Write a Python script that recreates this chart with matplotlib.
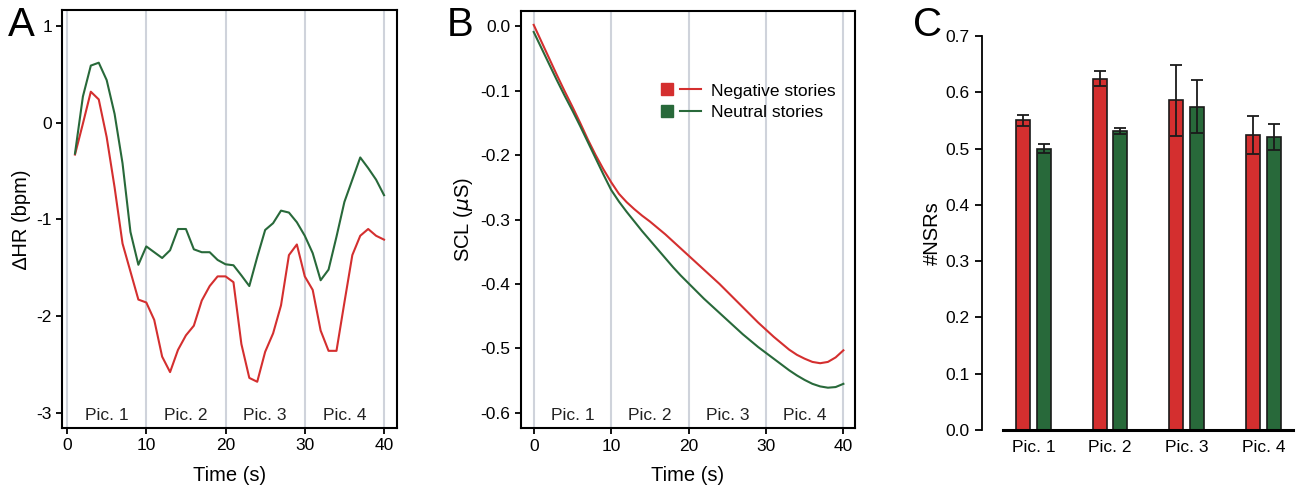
import matplotlib
matplotlib.use("Agg")
import matplotlib.pyplot as plt
from matplotlib.lines import Line2D
from matplotlib.legend_handler import HandlerTuple
import numpy as np

plt.rcParams["font.family"] = ["Liberation Sans", "DejaVu Sans"]
plt.rcParams["font.size"] = 12

RED = "#d42f2f"
GREEN = "#28693a"
GRID = "#cfd3db"

# ---- panel A : heart rate change, 1 s bins ----
hr_time = list(range(1, 41))
hr_negative = [-0.33, -0.01, 0.32, 0.24, -0.15, -0.67, -1.25, -1.54, -1.83, -1.86,
               -2.04, -2.42, -2.58, -2.35, -2.20, -2.10, -1.84, -1.69, -1.59, -1.59,
               -1.65, -2.29, -2.64, -2.68, -2.37, -2.18, -1.89, -1.37, -1.26, -1.59,
               -1.73, -2.15, -2.36, -2.36, -1.86, -1.37, -1.17, -1.10, -1.17, -1.21]
hr_neutral = [-0.32, 0.27, 0.59, 0.62, 0.44, 0.09, -0.42, -1.13, -1.47, -1.28,
              -1.34, -1.40, -1.32, -1.10, -1.10, -1.31, -1.34, -1.34, -1.42, -1.465,
              -1.475, -1.58, -1.69, -1.39, -1.11, -1.04, -0.91, -0.93, -1.03, -1.17,
              -1.35, -1.63, -1.52, -1.18, -0.82, -0.59, -0.36, -0.47, -0.59, -0.75]

# ---- panel B : skin conductance level ----
scl_time = list(range(0, 41))
scl_negative = [0.002, -0.024, -0.050, -0.076, -0.101, -0.125, -0.150, -0.176, -0.200, -0.222,
                -0.242, -0.260, -0.273, -0.284, -0.294, -0.303, -0.313, -0.323, -0.334, -0.345,
                -0.356, -0.367, -0.378, -0.389, -0.400, -0.412, -0.424, -0.436, -0.448, -0.460,
                -0.471, -0.482, -0.492, -0.502, -0.510, -0.516, -0.521, -0.523, -0.521, -0.514,
                -0.503]
scl_neutral = [-0.009, -0.034, -0.059, -0.084, -0.108, -0.131, -0.155, -0.180, -0.205, -0.230,
               -0.254, -0.272, -0.288, -0.303, -0.318, -0.332, -0.346, -0.360, -0.374, -0.387,
               -0.399, -0.411, -0.423, -0.434, -0.445, -0.456, -0.467, -0.478, -0.488, -0.498,
               -0.507, -0.516, -0.525, -0.534, -0.542, -0.549, -0.555, -0.559, -0.561, -0.560,
               -0.555]

# ---- panel C : number of NSRs ----
pictures = ["Pic. 1", "Pic. 2", "Pic. 3", "Pic. 4"]
pic_bounds = [0, 10, 20, 30, 40]
pic_centers = [5, 15, 25, 35]
nsr_negative = [0.550, 0.624, 0.586, 0.524]
nsr_negative_err = [0.010, 0.013, 0.063, 0.033]
nsr_neutral = [0.500, 0.531, 0.574, 0.521]
nsr_neutral_err = [0.008, 0.005, 0.047, 0.023]

W, H = 1297, 488
fig = plt.figure(figsize=(W / 100, H / 100), dpi=100)


def box(left, top, right, bottom):
    return [left / W, 1 - bottom / H, (right - left) / W, (bottom - top) / H]


def time_panel(ax, ylim, yticks, ylabel, label_frac):
    for b in pic_bounds:
        ax.axvline(b, color=GRID, lw=1.5, zorder=0)
    for c, name in zip(pic_centers, pictures):
        ax.text(c, label_frac, name, transform=ax.get_xaxis_transform(),
                ha="center", va="center", fontsize=12.5, color="#222222")
    ax.set_ylim(*ylim)
    ax.set_yticks(yticks)
    ax.set_xticks([0, 10, 20, 30, 40])
    ax.set_xlabel("Time (s)", fontsize=14.5, labelpad=9)
    ax.set_ylabel(ylabel, fontsize=14.5, labelpad=4)
    for s in ax.spines.values():
        s.set_linewidth(1.5)
    ax.tick_params(width=1.3, length=4, labelsize=12.5, color="black")


# A
axA = fig.add_axes(box(62.3, 10, 396.7, 427.7))
axA.plot(hr_time, hr_negative, color=RED, lw=1.5)
axA.plot(hr_time, hr_neutral, color=GREEN, lw=1.5)
axA.set_xlim(-0.6, 41.6)
time_panel(axA, (-3.155, 1.165), [-3, -2, -1, 0, 1], "\u2206HR (bpm)", 0.03)
axA.set_yticklabels(["-3", "-2", "-1", "0", "1"])

# B
axB = fig.add_axes(box(521, 10.7, 855, 428.3))
axB.plot(scl_time, scl_negative, color=RED, lw=1.5)
axB.plot(scl_time, scl_neutral, color=GREEN, lw=1.5)
axB.set_xlim(-1.64, 41.5)
time_panel(axB, (-0.624, 0.024), np.arange(-0.6, 0.01, 0.1), "SCL ($\\mu$S)", 0.03)
axB.set_yticklabels(["-0.6", "-0.5", "-0.4", "-0.3", "-0.2", "-0.1", "0.0"])

sq_r = Line2D([], [], marker="s", ms=9, color=RED, ls="none")
sq_g = Line2D([], [], marker="s", ms=9, color=GREEN, ls="none")
ln_r = Line2D([], [], color=RED, lw=1.5)
ln_g = Line2D([], [], color=GREEN, lw=1.5)
axB.legend([(sq_r, ln_r), (sq_g, ln_g)], ["Negative stories", "Neutral stories"],
           handler_map={tuple: HandlerTuple(ndivide=None, pad=0.1)},
           loc="upper left", bbox_to_anchor=(0.405, 0.826), frameon=False,
           borderpad=0, borderaxespad=0,
           fontsize=12.5, handlelength=2.6, handletextpad=0.55, labelspacing=0.35)

# C
axC = fig.add_axes(box(981.7, 36, 1293.3, 430))
x = np.arange(len(pictures))
bw = 0.183
off = 0.135
err_kw = dict(ecolor="#1a1a1a", elinewidth=1.3, capsize=4, capthick=1.3)
axC.bar(x - off, nsr_negative, bw, yerr=nsr_negative_err, color=RED,
        edgecolor="#1a1a1a", linewidth=1.2, error_kw=err_kw)
axC.bar(x + off, nsr_neutral, bw, yerr=nsr_neutral_err, color=GREEN,
        edgecolor="#1a1a1a", linewidth=1.2, error_kw=err_kw)
axC.set_xlim(-0.673, 3.39)
axC.set_ylim(0, 0.7)
axC.set_yticks(np.arange(0, 0.71, 0.1))
axC.set_yticklabels(["0.0", "0.1", "0.2", "0.3", "0.4", "0.5", "0.6", "0.7"])
axC.set_xticks(x)
axC.set_xticklabels(pictures)
axC.spines["top"].set_visible(False)
axC.spines["right"].set_visible(False)
axC.spines["left"].set_linewidth(1.3)
axC.spines["bottom"].set_linewidth(2.2)
axC.spines["bottom"].set_bounds(-0.39, 3.39)
axC.tick_params(axis="y", width=1.3, length=5, labelsize=12.5)
axC.tick_params(axis="x", length=0, pad=7, labelsize=12.5)
axC.set_ylabel("#NSRs", fontsize=14.5, labelpad=3)

# panel letters
fig.text(8 / W, 1 - 6 / H, "A", fontsize=29, va="top", ha="left")
fig.text(447 / W, 1 - 6 / H, "B", fontsize=29, va="top", ha="left")
fig.text(913 / W, 1 - 6 / H, "C", fontsize=29, va="top", ha="left")

plt.savefig("out.png", dpi=100)
